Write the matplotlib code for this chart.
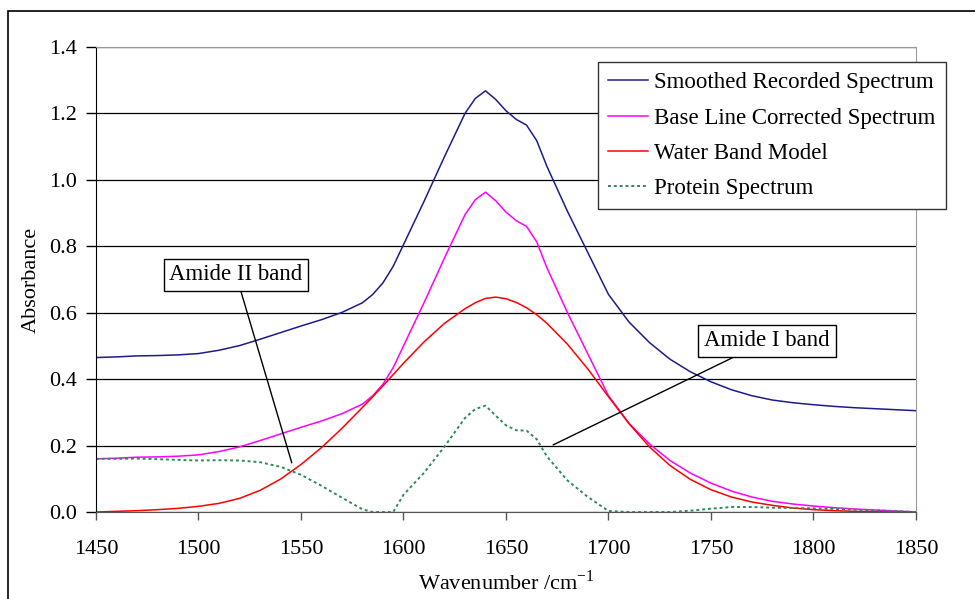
import matplotlib

matplotlib.use("Agg")
import matplotlib.pyplot as plt
from matplotlib.patches import Rectangle

plt.rcParams["font.family"] = ["Liberation Serif", "DejaVu Serif"]
plt.rcParams["mathtext.fontset"] = "custom"
plt.rcParams["mathtext.rm"] = "Liberation Serif"

# values
wavenumber = [1450, 1460, 1470, 1480, 1490, 1500, 1510, 1520, 1530, 1540,
              1550, 1560, 1570, 1580, 1585, 1590, 1595, 1600, 1610, 1620,
              1630, 1635, 1640, 1645, 1650, 1655, 1660, 1665, 1670, 1680,
              1690, 1700, 1710, 1720, 1730, 1740, 1750, 1760, 1770, 1780,
              1790, 1800, 1810, 1820, 1830, 1840, 1850]
smoothed = [0.465, 0.467, 0.470, 0.471, 0.473, 0.477, 0.487, 0.501, 0.520, 0.540,
            0.560, 0.579, 0.601, 0.630, 0.655, 0.690, 0.740, 0.805, 0.935, 1.070,
            1.200, 1.245, 1.268, 1.242, 1.208, 1.182, 1.165, 1.118, 1.040, 0.905,
            0.780, 0.655, 0.572, 0.510, 0.460, 0.422, 0.392, 0.368, 0.350, 0.337,
            0.329, 0.323, 0.318, 0.314, 0.311, 0.308, 0.305]
baseline_corr = [0.160, 0.162, 0.165, 0.166, 0.168, 0.172, 0.182, 0.196, 0.215, 0.235,
                 0.255, 0.274, 0.296, 0.325, 0.350, 0.385, 0.435, 0.500, 0.630, 0.765,
                 0.895, 0.940, 0.963, 0.937, 0.903, 0.877, 0.860, 0.813, 0.735, 0.600,
                 0.475, 0.350, 0.267, 0.205, 0.155, 0.117, 0.087, 0.063, 0.045, 0.032,
                 0.024, 0.018, 0.013, 0.009, 0.006, 0.003, 0.000]
water = [0.000, 0.002, 0.004, 0.007, 0.011, 0.017, 0.026, 0.041, 0.065, 0.099,
         0.143, 0.194, 0.252, 0.315, 0.347, 0.380, 0.414, 0.448, 0.512, 0.568,
         0.612, 0.630, 0.643, 0.647, 0.642, 0.631, 0.615, 0.594, 0.568, 0.505,
         0.430, 0.347, 0.266, 0.196, 0.140, 0.098, 0.067, 0.045, 0.030, 0.020,
         0.012, 0.007, 0.004, 0.002, 0.001, 0.000, 0.000]
protein = [0.160, 0.160, 0.161, 0.159, 0.157, 0.155, 0.156, 0.155, 0.150, 0.136,
           0.112, 0.079, 0.043, 0.008, 0.000, 0.000, 0.000, 0.052, 0.118, 0.197,
           0.283, 0.310, 0.320, 0.290, 0.261, 0.246, 0.245, 0.219, 0.167, 0.095,
           0.045, 0.003, 0.000, 0.000, 0.000, 0.004, 0.010, 0.015, 0.015, 0.013,
           0.012, 0.011, 0.009, 0.007, 0.005, 0.003, 0.000]

y_ticks = [0.0, 0.2, 0.4, 0.6, 0.8, 1.0, 1.2, 1.4]
x_ticks = [1450, 1500, 1550, 1600, 1650, 1700, 1750, 1800, 1850]

FS = 16

fig = plt.figure(figsize=(9.75, 5.99), dpi=100)
ax = fig.add_axes([96 / 975, 1 - 512 / 599, 820 / 975, 465 / 599])

# outer chart frame (runs off the right and bottom of the image)
fig.patches.append(Rectangle((8 / 975, -0.1), 1.2, 1.1 - 11 / 599, fill=False,
                             ec="black", lw=1.2, transform=fig.transFigure))

ax.plot(wavenumber, smoothed, color="#1c1c8a", lw=1.1, label="Smoothed Recorded Spectrum")
ax.plot(wavenumber, baseline_corr, color="#ff00ff", lw=1.1, label="Base Line Corrected Spectrum")
ax.plot(wavenumber, water, color="#ff0000", lw=1.1, label="Water Band Model")
ax.plot(wavenumber, protein, color="#2e8b57", lw=1.4, ls=(0, (1.5, 1.5)),
        label="Protein Spectrum")

ax.set_xlim(1450, 1850)
ax.set_ylim(0, 1.4)
ax.set_xticks(x_ticks)
ax.set_yticks(y_ticks)
ax.set_yticklabels([f"{v:.1f}" for v in y_ticks])
ax.tick_params(axis="y", direction="out", length=7, width=1, labelsize=FS, pad=7)
ax.tick_params(axis="x", direction="out", length=6, width=1, labelsize=FS, pad=14,
               color="#555555")
ax.grid(axis="y", color="black", lw=0.9)
ax.set_axisbelow(True)
ax.spines["left"].set_color("black")
ax.spines["bottom"].set_color("#555555")
for s in ("top", "right"):
    ax.spines[s].set_color("#999999")

ax.set_ylabel("Absorbance", fontsize=FS, labelpad=6)
ax.set_xlabel(r"Wavenumber /cm$^{-1}$", fontsize=FS, labelpad=8)

# callout boxes with leader lines
box = dict(boxstyle="square,pad=0.25", fc="white", ec="black", lw=1)
line = dict(arrowstyle="-", color="black", lw=1, shrinkA=0, shrinkB=0)
ax.annotate("Amide II band", xy=(1545.5, 0.148), xytext=(1518.3, 0.714),
            fontsize=16.5, ha="center", va="center", bbox=box, arrowprops=line)
ax.annotate("Amide I band", xy=(1673, 0.202), xytext=(1777.3, 0.515),
            fontsize=16.5, ha="center", va="center", bbox=box, arrowprops=line)

leg = ax.legend(loc="upper left", bbox_to_anchor=(598 / 975, 1 - 62 / 599),
                bbox_transform=fig.transFigure, borderaxespad=0, fontsize=16.5,
                fancybox=False, edgecolor="#333333", framealpha=1,
                handlelength=1.75, handletextpad=0.25, labelspacing=0.62,
                borderpad=0.45)
leg.get_frame().set_linewidth(1)

fig.savefig("out.png", dpi=100)
